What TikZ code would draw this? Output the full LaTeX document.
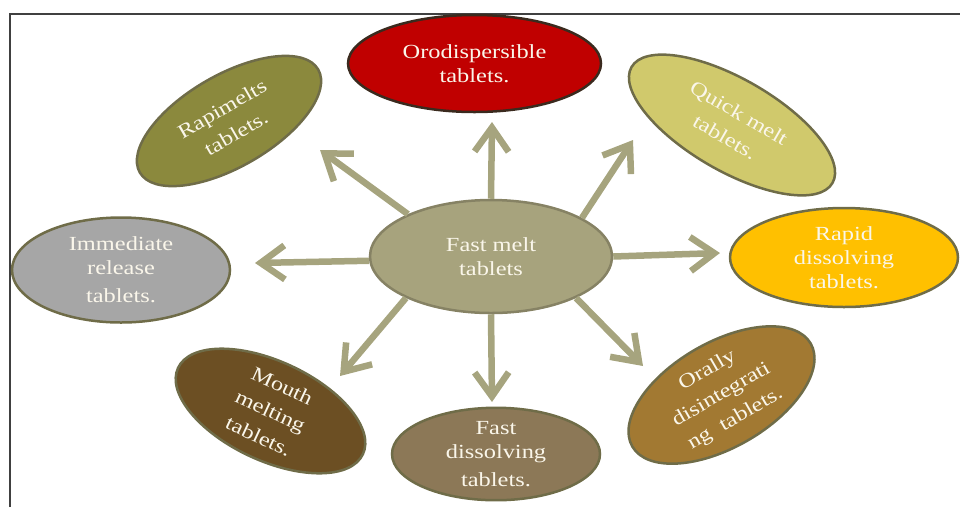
\documentclass[tikz,border=0pt]{standalone}
\usepackage{fontspec}
\setmainfont[FakeStretch=1.22]{Liberation Serif}
\usetikzlibrary{shapes.geometric,arrows.meta}

\definecolor{frameln}{HTML}{404040}
\definecolor{edgeol}{HTML}{6F6C48}
\definecolor{arrcol}{HTML}{A6A47E}
\definecolor{txt}{HTML}{FAF6EA}
\definecolor{cmid}{HTML}{A7A37D}
\definecolor{cred}{HTML}{C00000}
\definecolor{credge}{HTML}{3A2A1E}
\definecolor{crapi}{HTML}{8B893D}
\definecolor{cquick}{HTML}{D0C96C}
\definecolor{cimm}{HTML}{A6A6A6}
\definecolor{crapid}{HTML}{FFC000}
\definecolor{cmouth}{HTML}{6C4F23}
\definecolor{cfast}{HTML}{8C7857}
\definecolor{coral}{HTML}{A27932}

\tikzset{
  bub/.style={ellipse, inner sep=0pt, line width=2.5pt, draw=edgeol,
    text=txt, align=center, font=\fontsize{20}{24}\selectfont},
  tilted/.style={bub, rotate=#1, font=\fontsize{20}{28}\selectfont},
  arr/.style={line width=6.5pt, draw=arrcol,
    -{Straight Barb[length=24pt,width=34pt]}},
}

\begin{document}
\begin{tikzpicture}[x=1pt,y=-1pt]
  \useasboundingbox (0,0) rectangle (960,507);
  % page frame
  \draw[frameln, line width=1.3pt] (10,507) -- (10,14) -- (960,14);

  % central idea
  \node[bub, fill=cmid, draw=cmid!80!black, minimum width=242pt, minimum height=113pt]
    (c) at (491,256.5) {Fast melt\\tablets};

  % surrounding names
  \node[bub, fill=cred, draw=credge, minimum width=253pt, minimum height=97pt]
    (oro) at (474.5,63.5) {Orodispersible\\tablets.};
  \node[tilted=30, fill=crapi, minimum width=206pt, minimum height=92pt]
    (rap) at (229,121) {Rapimelts\\tablets.};
  \node[tilted=-30, fill=cquick, minimum width=232pt, minimum height=92pt]
    (qm) at (732,125) {Quick melt\\tablets.};
  \node[bub, fill=cimm, minimum width=218pt, minimum height=105pt]
    (imm) at (121,270) {Immediate\\release\\[4pt]tablets.};
  \node[bub, fill=crapid, minimum width=228pt, minimum height=99pt]
    (rd) at (844,257.5) {Rapid\\dissolving\\tablets.};
  \node[tilted=-25, fill=cmouth, minimum width=204pt, minimum height=82pt]
    (mm) at (270.5,411) {Mouth\\melting\\tablets.};
  \node[bub, fill=cfast, minimum width=208pt, minimum height=86pt]
    (fd) at (496,454) {Fast\\dissolving\\[4pt]tablets.};
  \node[tilted=30, fill=coral, minimum width=206pt, minimum height=92pt]
    (od) at (721.5,395) {Orally\\disintegrati\\ng\ \ tablets.};

  % arrow tips
  \coordinate (tUp) at (492,122);
  \coordinate (tUL) at (320,150);
  \coordinate (tUR) at (633,140);
  \coordinate (tL)  at (255,263);
  \coordinate (tR)  at (720,253);
  \coordinate (tLL) at (340,376);
  \coordinate (tD)  at (492,402);
  \coordinate (tLR) at (643,366);

  % arrows from the centre
  \draw[arr] (c.90)    -- (tUp);
  \draw[arr] (c.153.7) -- (tUL);
  \draw[arr] (c.23)    -- (tUR);
  \draw[arr] (c.182)   -- (tL);
  \draw[arr] (c.0)     -- (tR);
  \draw[arr] (c.206.8) -- (tLL);
  \draw[arr] (c.270)   -- (tD);
  \draw[arr] (c.334)   -- (tLR);
\end{tikzpicture}
\end{document}
